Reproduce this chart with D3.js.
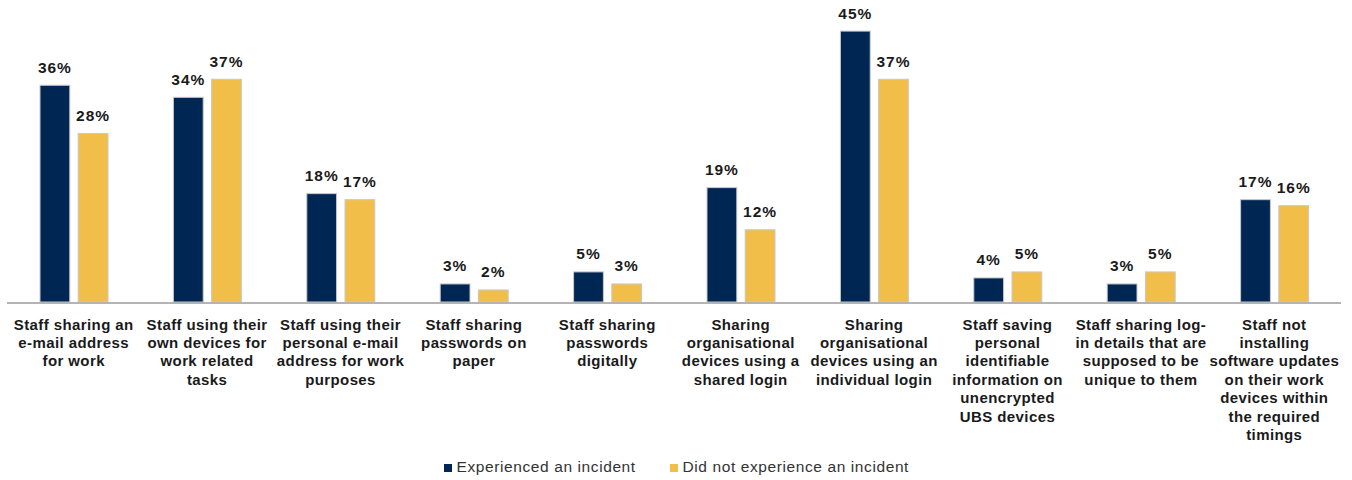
<!DOCTYPE html>
<html>
<head>
<meta charset="utf-8">
<script src="https://cdn.jsdelivr.net/npm/d3@7/dist/d3.min.js"></script>
<style>
  html, body { margin: 0; padding: 0; background: #fff; }
  svg { display: block; font-family: "Liberation Sans", Arial, sans-serif; }
</style>
</head>
<body>
<svg id="chart" width="1352" height="480"></svg>
<script>
// Category labels, already broken into the lines they are drawn on
const categoryLines = [
  ["Staff sharing an", "e-mail address", "for work"],
  ["Staff using their", "own devices for", "work related", "tasks"],
  ["Staff using their", "personal e-mail", "address for work", "purposes"],
  ["Staff sharing", "passwords on", "paper"],
  ["Staff sharing", "passwords", "digitally"],
  ["Sharing", "organisational", "devices using a", "shared login"],
  ["Sharing", "organisational", "devices using an", "individual login"],
  ["Staff saving", "personal", "identifiable", "information on", "unencrypted", "UBS devices"],
  ["Staff sharing log-", "in details that are", "supposed to be", "unique to them"],
  ["Staff not", "installing", "software updates", "on their work", "devices within", "the required", "timings"]
];
const categories = categoryLines.map(l => l.join(" "));

const seriesNames = ["Experienced an incident", "Did not experience an incident"];
const experienced = [36, 34, 18, 3, 5, 19, 45, 4, 3, 17];
const notExperienced = [28, 37, 17, 2, 3, 12, 37, 5, 5, 16];
const seriesColors = ["#002654", "#F2BE4A"];

const svg = d3.select("#chart");

const baseline = 302;
const x0 = d3.scaleBand().domain(categories).range([7, 1341]).paddingInner(0).paddingOuter(0);
const x1 = d3.scaleBand().domain([0, 1]).range([33, 101]).paddingInner(0.22);
const y = d3.scaleLinear().domain([0, 50]).range([baseline, 1]);

const data = categories.map((c, i) => ({ cat: c, vals: [experienced[i], notExperienced[i]] }));

const groups = svg.append("g").selectAll("g")
  .data(data).join("g")
  .attr("transform", d => `translate(${x0(d.cat)},0)`);

groups.selectAll("rect")
  .data(d => d.vals.map((v, s) => ({ v, s })))
  .join("rect")
  .attr("x", d => x1(d.s))
  .attr("width", x1.bandwidth())
  .attr("y", d => y(d.v))
  .attr("height", d => baseline - y(d.v))
  .attr("fill", d => seriesColors[d.s])
  .attr("stroke", "#c8c8c8")
  .attr("stroke-width", 1);

groups.selectAll("text.val")
  .data(d => d.vals.map((v, s) => ({ v, s })))
  .join("text")
  .attr("class", "val")
  .attr("x", d => x1(d.s) + x1.bandwidth() / 2)
  .attr("y", d => y(d.v) - 12.5)
  .attr("text-anchor", "middle")
  .attr("font-size", 15.5)
  .attr("font-weight", "bold")
  .attr("letter-spacing", 1)
  .attr("fill", "#1a1a1a")
  .text(d => d.v + "%");

// Baseline axis
svg.append("line")
  .attr("x1", 7).attr("x2", 1341)
  .attr("y1", baseline + 1).attr("y2", baseline + 1)
  .attr("stroke", "#b4b4b4").attr("stroke-width", 2);

// Category labels
const labels = svg.append("g").selectAll("text")
  .data(categories.map((c, i) => ({ cat: c, lines: categoryLines[i] })))
  .join("text")
  .attr("x", d => x0(d.cat) + x0.bandwidth() / 2)
  .attr("y", 329.5)
  .attr("text-anchor", "middle")
  .attr("font-size", 15)
  .attr("font-weight", "bold")
  .attr("letter-spacing", 0.4)
  .attr("fill", "#1a1a1a");
labels.selectAll("tspan")
  .data(d => d.lines.map((t, k) => ({ t, k, x: x0(d.cat) + x0.bandwidth() / 2 })))
  .join("tspan")
  .attr("x", d => d.x)
  .attr("dy", d => d.k === 0 ? 0 : 18.4)
  .text(d => d.t);

// Legend
const legendX = [444, 670];
const legend = svg.append("g").selectAll("g")
  .data(seriesNames).join("g")
  .attr("transform", (d, i) => `translate(${legendX[i]},464)`);
legend.append("rect")
  .attr("width", 8).attr("height", 8)
  .attr("fill", (d, i) => seriesColors[i]);
legend.append("text")
  .attr("x", 12.5).attr("y", 7.8)
  .attr("font-size", 15.5)
  .attr("letter-spacing", 0.6)
  .attr("fill", "#333")
  .text(d => d);
</script>
</body>
</html>
